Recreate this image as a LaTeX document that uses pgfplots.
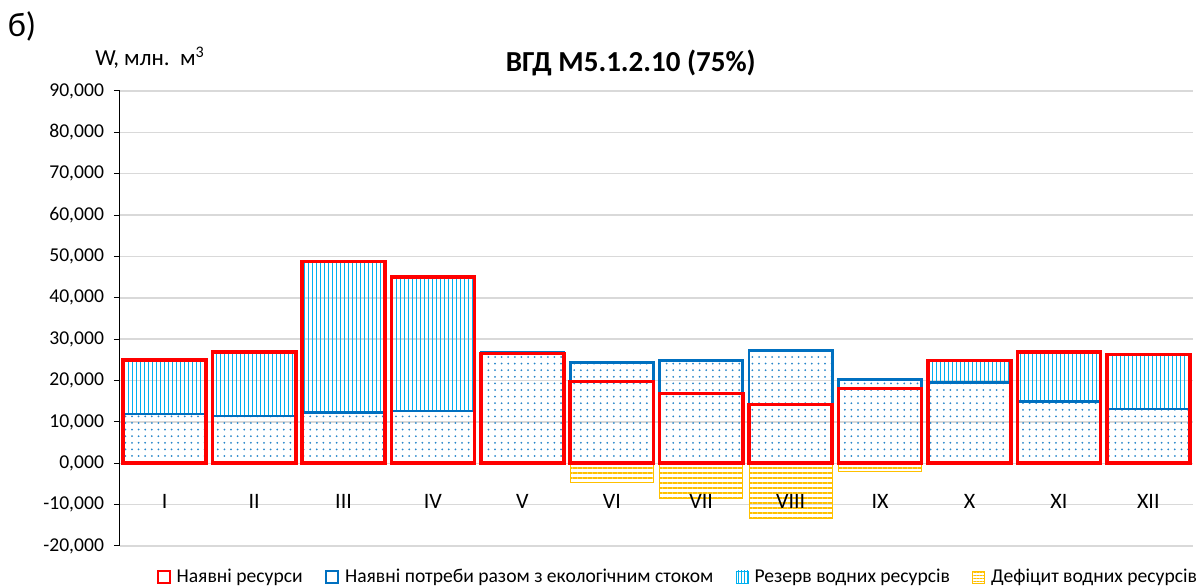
\documentclass[border=0pt]{standalone}
\usepackage{fontspec}
\setmainfont{Carlito}
\usepackage{pgfplots}
\pgfplotsset{compat=1.18}
\usepackage{pgfplotstable}
\usetikzlibrary{patterns.meta}
\definecolor{resred}{RGB}{255,0,0}
\definecolor{needblue}{RGB}{0,112,192}
\definecolor{rescyan}{RGB}{0,176,240}
\definecolor{defyel}{RGB}{255,192,0}
\definecolor{gridgray}{RGB}{217,217,217}

\pgfplotstableread{
m res needs reserve
1 25.0 11.9 13.1
2 26.9 11.4 15.5
3 48.8 12.3 36.5
4 45.0 12.6 32.4
5 26.5 26.9 0
6 19.8 24.3 0
7 16.9 24.9 0
8 14.2 27.3 0
9 18.1 20.3 0
10 24.8 19.5 5.3
11 26.9 15.0 11.9
12 26.3 13.1 13.2
}\data

\pgfplotsset{
  common/.style={width=536.5pt,height=227.5pt,scale only axis,
    xmin=0.5,xmax=12.5,ymin=-20,ymax=90,bar width=0.93},
}

\begin{document}
\begin{tikzpicture}
\useasboundingbox (-60pt,-21pt) rectangle (541.5pt,273pt);
\begin{axis}[common, ybar stacked,
  axis y line*=left, axis x line*=middle,
  x axis line style={draw=gridgray, line width=0.7pt},
  y axis line style={draw=black, line width=0.5pt},
  ymajorgrids, grid style={gridgray, line width=0.7pt},
  ytick={-20,-10,0,10,20,30,40,50,60,70,80,90},
  yticklabels={{-20,000},{-10,000},{0,000},{10,000},{20,000},{30,000},{40,000},{50,000},{60,000},{70,000},{80,000},{90,000}},
  xtick=\empty,
  tick align=outside, major tick length=3pt,
  ytick style={black, line width=0.5pt},
  yticklabel style={font=\fontsize{9.8}{11}\selectfont, xshift=-1.5pt},
  title={ВГД М5.1.2.10 (75\%)},
  title style={font=\fontsize{14.5}{16}\selectfont\bfseries, at={(0.476,1)}, anchor=base, yshift=3.5pt},
]
\addplot[draw=needblue, line width=1.3pt, pattern={Dots[distance=3.3pt, radius=0.5pt]}, pattern color=needblue!85] table[x=m,y=needs]{\data};
\addplot[draw=none, pattern={Lines[angle=90, distance=2pt, line width=0.5pt]}, pattern color=rescyan] table[x=m,y=reserve]{\data};
\end{axis}
\begin{axis}[common, ybar, bar shift=0pt, axis on top,
  axis x line*=middle, x axis line style={draw=none},
  axis y line*=left, y axis line style={draw=none}, ytick=\empty,
  xtick={1,2,3,4,5,6,7,8,9,10,11,12},
  xticklabels={I,II,III,IV,V,VI,VII,VIII,IX,X,XI,XII},
  xtick style={draw=none},
  xticklabel style={font=\fontsize{11}{13}\selectfont, yshift=-8pt},
  legend columns=4,
  legend style={at={(0.521,-0.068)}, anchor=center, draw=none, fill=none,
    font=\fontsize{9.8}{11}\selectfont,
    /tikz/every even column/.append style={column sep=9pt},
    /tikz/every odd column/.append style={column sep=1pt}},
  legend image code/.code={\draw[#1] (0pt,-3pt) rectangle (6pt,3pt);},
]
\addlegendimage{draw=resred, line width=0.8pt, fill=white}
\addlegendentry{Наявні ресурси}
\addlegendimage{draw=needblue, line width=1.2pt, fill=white}
\addlegendentry{Наявні потреби разом з екологічним стоком}
\addlegendimage{draw=rescyan, line width=0.3pt, pattern={Lines[angle=90, distance=1.5pt, line width=0.5pt]}, pattern color=rescyan}
\addlegendentry{Резерв водних ресурсів}
\addlegendimage{draw=defyel, line width=0.3pt, pattern={Lines[angle=0, distance=1.5pt, line width=0.5pt]}, pattern color=defyel}
\addlegendentry{Дефіцит водних ресурсів}
\addplot[forget plot, draw=defyel, line width=0.5pt, pattern={Lines[angle=0, distance=2.5pt, line width=0.6pt]}, pattern color=defyel] coordinates {(5,-0.4) (6,-4.7) (7,-8.5) (8,-13.3) (9,-2.0)};
\addplot[forget plot, draw=resred, line width=1.8pt, fill=none] table[x=m,y=res]{\data};
\end{axis}
\node[font=\fontsize{17}{19}\selectfont, anchor=center] at (-49pt,260pt) {б)};
\node[font=\fontsize{11.5}{13}\selectfont, anchor=base] at (15pt,240pt) {W, млн.~~м\textsuperscript{3}};
\end{tikzpicture}
\end{document}
